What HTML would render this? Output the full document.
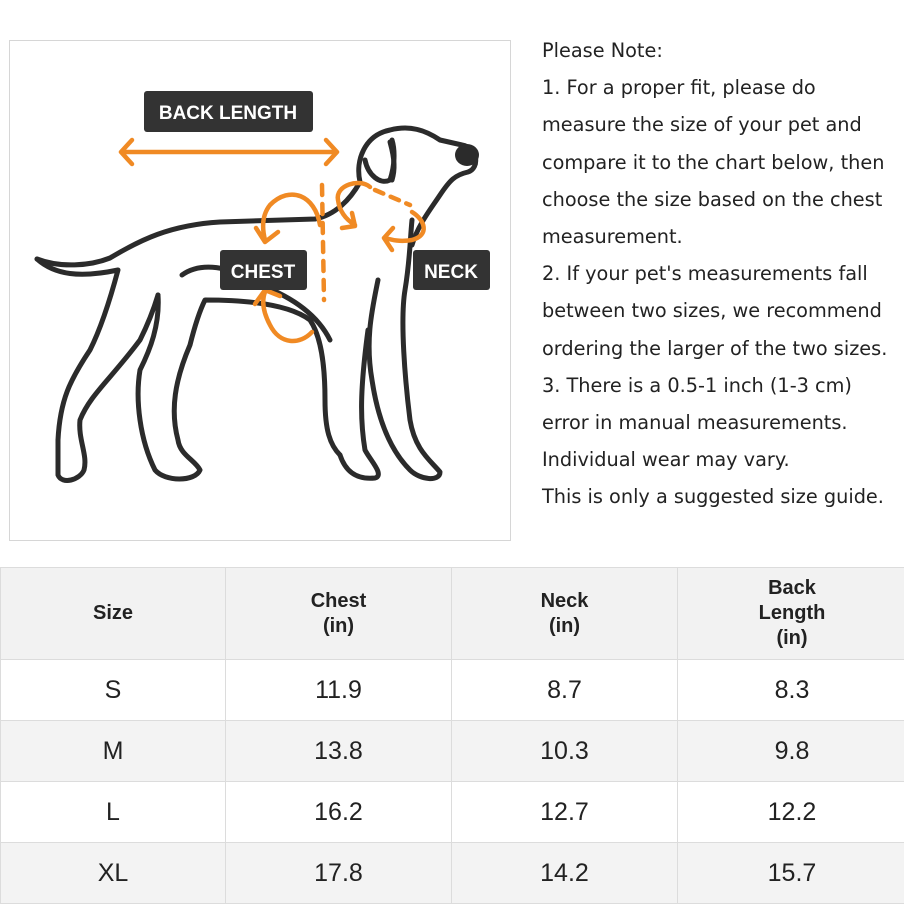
<!DOCTYPE html>
<html><head><meta charset="utf-8"><style>
html,body{margin:0;padding:0;background:#fff;}
body{width:904px;height:903px;overflow:hidden;position:relative;font-family:"Liberation Sans","Noto Sans CJK SC",sans-serif;}
.box{position:absolute;left:9px;top:40px;width:502px;height:501px;border:1.5px solid #d6d6d6;box-sizing:border-box;}
.note{position:absolute;left:542px;top:32px;width:400px;font-family:"DejaVu Sans",sans-serif;font-size:19.3px;color:#222;line-height:37.2px;white-space:nowrap;}
table{position:absolute;left:0;top:567px;border-collapse:collapse;width:906px;table-layout:fixed;}
td{border:1.5px solid #dcdcdc;text-align:center;color:#222;padding:0;}
tr.h td{height:91px;font-weight:bold;font-size:20px;line-height:25px;background:#f2f2f2;}
tr.r td{height:60px;font-size:25px;}
tr.g td{background:#f3f3f3;}
</style></head><body>
<div class="box"></div>
<svg style="position:absolute;left:0;top:0" width="520" height="545" viewBox="0 0 520 545">
<g fill="none" stroke="#2b2b2b" stroke-width="5" stroke-linejoin="round" stroke-linecap="round">
<path d="M37,259 C60,268 90,266 110,258 C140,240 170,225 220,222 L315,219 C335,215 350,200 360,182"/>
<path d="M37,259 C55,275 80,278 118,270 C110,300 100,330 90,350 C70,380 60,400 58,440 L58,475 C62,485 80,480 84,470 C88,455 78,440 80,420 C90,395 110,380 140,340 C150,320 155,305 158,295"/>
<path d="M158,295 C160,325 150,350 140,370 C135,400 140,440 155,470 C165,482 195,482 200,470 C195,460 180,455 178,440 C170,410 175,380 190,345 C195,325 200,310 205,300 C250,300 290,305 310,320 C320,335 325,360 325,400 C325,430 330,445 340,455"/>
<path d="M182,275 C200,262 230,265 260,285 C300,300 320,320 330,340"/>
<path d="M340,455 C345,470 355,480 375,478 C385,475 370,460 365,450 C360,420 360,390 368,330"/>
<path d="M378,280 C372,310 365,340 372,380 C378,420 390,450 410,470 C420,480 440,482 440,472 C430,460 415,450 410,420 C405,380 400,320 405,290 C410,260 410,240 412,220"/>
<path d="M360,182 C355,160 365,135 390,130 C410,125 425,130 440,140 L462,145 C478,148 480,168 468,172 C455,175 450,180 440,195 C430,210 418,225 412,245"/>
<path d="M365,160 C368,175 380,185 390,180 C395,165 395,150 392,140"/>
<path d="M390,142 C395,160 395,170 392,180"/>
</g>
<ellipse cx="467" cy="155" rx="12" ry="11" fill="#2b2b2b"/>
<g fill="none" stroke="#f08a24" stroke-width="4.5" stroke-linecap="round" stroke-linejoin="round">
<path d="M121,152 L337,152 M132,140 L121,152 L132,164 M326,140 L337,152 L326,164"/>
<path d="M320,225 C315,195 290,185 270,205 C262,215 262,228 265,240 M256,228 L265,242 L278,232"/>
<path d="M322,185 L324,300" stroke-dasharray="10,9"/>
<path d="M312,332 C300,345 280,345 270,325 C262,310 262,300 265,292 M255,304 L265,290 L280,296"/>
<path d="M370,187 C360,178 335,185 338,200 C340,215 350,222 355,225 M342,228 L355,226 L352,213"/>
<path d="M375,190 L410,205" stroke-dasharray="9,8"/>
<path d="M412,212 C425,220 430,235 412,240 C400,242 392,240 385,238 M393,228 L384,238 L392,250"/>
</g>
<rect x="144" y="91" width="169" height="41" rx="3" fill="#333"/>
<text x="228" y="119" text-anchor="middle" fill="#fff" font-weight="bold" font-size="19" font-family="Liberation Sans,sans-serif">BACK LENGTH</text>
<rect x="220" y="250" width="87" height="40" rx="3" fill="#333"/>
<text x="263" y="278" text-anchor="middle" fill="#fff" font-weight="bold" font-size="19" font-family="Liberation Sans,sans-serif">CHEST</text>
<rect x="413" y="250" width="77" height="40" rx="3" fill="#333"/>
<text x="451" y="278" text-anchor="middle" fill="#fff" font-weight="bold" font-size="19" font-family="Liberation Sans,sans-serif">NECK</text>
</svg>
<div class="note">Please Note:<br>1. For a proper fit, please do<br>measure the size of your pet and<br>compare it to the chart below, then<br>choose the size based on the chest<br>measurement.<br>2. If your pet's measurements fall<br>between two sizes, we recommend<br>ordering the larger of the two sizes.<br>3. There is a 0.5-1 inch (1-3 cm)<br>error in manual measurements.<br>Individual wear may vary.<br>This is only a suggested size guide.</div>
<table>
<colgroup><col style="width:225px"><col style="width:226px"><col style="width:226px"><col style="width:229px"></colgroup>
<tr class="h"><td>Size</td><td>Chest<br>(in)</td><td>Neck<br>(in)</td><td>Back<br>Length<br>(in)</td></tr>
<tr class="r"><td>S</td><td>11.9</td><td>8.7</td><td>8.3</td></tr>
<tr class="r g"><td>M</td><td>13.8</td><td>10.3</td><td>9.8</td></tr>
<tr class="r"><td>L</td><td>16.2</td><td>12.7</td><td>12.2</td></tr>
<tr class="r g"><td>XL</td><td>17.8</td><td>14.2</td><td>15.7</td></tr>
</table>
</body></html>
